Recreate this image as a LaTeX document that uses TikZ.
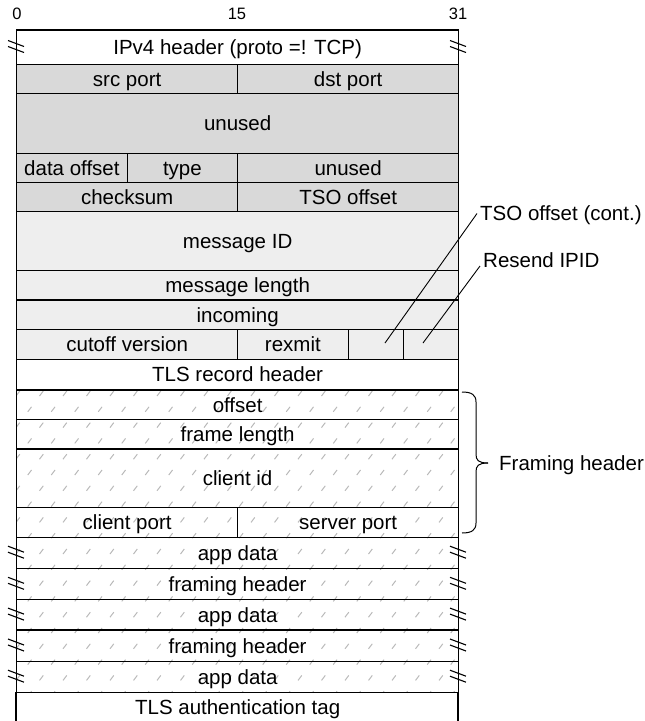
\documentclass[tikz,border=0pt]{standalone}
\usepackage{fontspec}
\setmainfont{Liberation Sans}
\definecolor{darkcell}{RGB}{217,217,217}
\definecolor{lightcell}{RGB}{238,238,238}
\definecolor{hatchgray}{RGB}{185,185,185}
\begin{document}
\begin{tikzpicture}[x=1pt,y=-1pt,
  cell/.style={draw=black,line width=1.3pt,inner sep=0pt,anchor=north west,
    font=\fontsize{20.5}{24}\selectfont,text height=14.7pt,text depth=0pt},
  bitlabel/.style={inner sep=0pt,font=\fontsize{16.5}{19}\selectfont},
  sidelabel/.style={inner sep=3pt,anchor=west,font=\fontsize{20.5}{24}\selectfont,
    text height=14.7pt,text depth=0pt},
  breakmark/.style={line width=1.1pt,black},
  leader/.style={line width=0.9pt,black}]
\useasboundingbox (0,0) rectangle (645,721);
% hatch background
\begin{scope}
  \clip (16,389.2) rectangle (458,691.7);
  \foreach \j in {0,...,19}{
    \foreach \i in {0,...,19}{
      \draw[hatchgray,line width=1pt] ({16+\i*23.5+mod(\j,2)*11.75},{396+\j*15.8}) -- ++(3.8,-5);
    }
  }
\end{scope}
% bit labels
\node[bitlabel] (b0) at (17,14) {0};
\node[bitlabel] (b15) at (237,14) {15};
\node[bitlabel] (b31) at (458,14) {31};
% rows
\node[cell,minimum width=442pt,minimum height=34.4pt] (ipv4) at (16,29.3) {IPv4 header (proto =! TCP)};
\node[cell,fill=darkcell,minimum width=221pt,minimum height=29pt] (src) at (16,63.7) {src port};
\node[cell,fill=darkcell,minimum width=221pt,minimum height=29pt] (dst) at (237,63.7) {dst port};
\node[cell,fill=darkcell,minimum width=442pt,minimum height=60pt] (unusedA) at (16,92.7) {unused};
\node[cell,fill=darkcell,minimum width=110.5pt,minimum height=29pt] (doff) at (16,152.7) {data offset};
\node[cell,fill=darkcell,minimum width=110.5pt,minimum height=29pt] (type) at (126.5,152.7) {type};
\node[cell,fill=darkcell,minimum width=221pt,minimum height=29pt] (unusedB) at (237,152.7) {unused};
\node[cell,fill=darkcell,minimum width=221pt,minimum height=29pt] (cks) at (16,181.7) {checksum};
\node[cell,fill=darkcell,minimum width=221pt,minimum height=29pt] (tso) at (237,181.7) {TSO offset};
\node[cell,fill=lightcell,minimum width=442pt,minimum height=59.3pt] (msgid) at (16,210.7) {message ID};
\node[cell,fill=lightcell,minimum width=442pt,minimum height=29.3pt] (msglen) at (16,270) {message length};
\node[cell,fill=lightcell,minimum width=442pt,minimum height=29.7pt] (incoming) at (16,299.3) {incoming};
\node[cell,fill=lightcell,minimum width=221pt,minimum height=29.5pt] (cutoff) at (16,329) {cutoff version};
\node[cell,fill=lightcell,minimum width=110.5pt,minimum height=29.5pt] (rexmit) at (237,329) {rexmit};
\node[cell,fill=lightcell,minimum width=55.5pt,minimum height=29.5pt] (tsoB) at (347.5,329) {};
\node[cell,fill=lightcell,minimum width=55pt,minimum height=29.5pt] (ipid) at (403,329) {};
\node[cell,minimum width=442pt,minimum height=30.7pt] (tlsrec) at (16,358.5) {TLS record header};
\node[cell,minimum width=442pt,minimum height=29.8pt] (offset) at (16,389.2) {offset};
\node[cell,minimum width=442pt,minimum height=29.3pt] (framelen) at (16,419) {frame length};
\node[cell,minimum width=442pt,minimum height=58.4pt] (clientid) at (16,448.3) {client id};
\node[cell,minimum width=221pt,minimum height=30pt] (cport) at (16,506.7) {client port};
\node[cell,minimum width=221pt,minimum height=30pt] (sport) at (237,506.7) {server port};
\node[cell,minimum width=442pt,minimum height=31pt] (appA) at (16,536.7) {app data};
\node[cell,minimum width=442pt,minimum height=31.3pt] (fhA) at (16,567.7) {framing header};
\node[cell,minimum width=442pt,minimum height=30.3pt] (appB) at (16,599) {app data};
\node[cell,minimum width=442pt,minimum height=31.4pt] (fhB) at (16,629.3) {framing header};
\node[cell,minimum width=442pt,minimum height=31pt] (appC) at (16,660.7) {app data};
\node[cell,draw=none,minimum width=442pt,minimum height=29.3pt] (tag) at (16,691.7) {TLS authentication tag};
\draw[line width=1.3pt] (16,691.7) -- (16,725) (458,691.7) -- (458,725);
% break marks
\foreach \yy in {46.5,552.2,583.3,614.1,645,676.2}{
  \foreach \xx in {16,458}{
    \draw[breakmark] (\xx-8,\yy-6) -- (\xx+8,\yy+0);
    \draw[breakmark] (\xx-8,\yy-0) -- (\xx+8,\yy+6);
  }
}
% side labels
\node[sidelabel] (tsolabel) at (477,213.5) {TSO offset (cont.)};
\node[sidelabel] (ipidlabel) at (480,260) {Resend IPID};
\coordinate (tsoin) at (385,343);
\coordinate (ipidin) at (423,343);
\coordinate (ipidend) at (480,266);
\draw[leader] (tsoin) -- (tsolabel.west);
\draw[leader] (ipidin) -- (ipidend);
% brace
\draw[line width=1pt] (462,392) .. controls (472,392) and (476,395) .. (476,402) -- (476,454) .. controls (476,460) and (478,463) .. (488,463);
\draw[line width=1pt] (462,533) .. controls (472,533) and (476,530) .. (476,523) -- (476,472) .. controls (476,466) and (478,463) .. (488,463);
\node[sidelabel] (framing) at (496,463) {Framing header};
\end{tikzpicture}
\end{document}
